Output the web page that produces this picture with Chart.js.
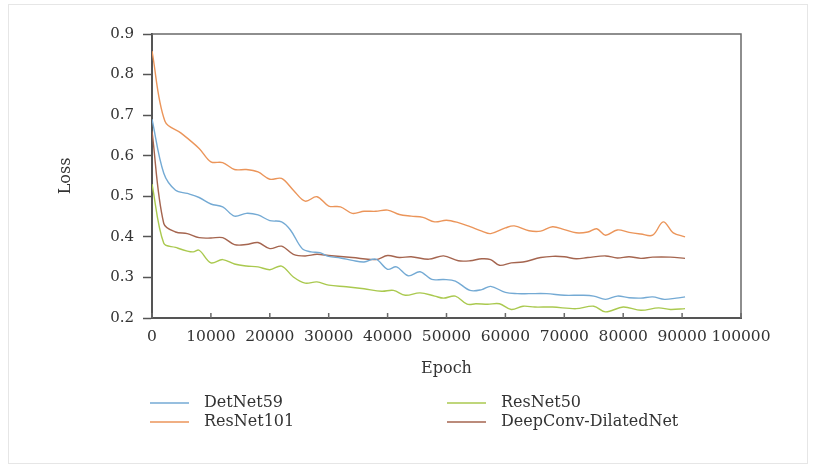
<!DOCTYPE html>
<html>
<head>
<meta charset="utf-8">
<script src="https://cdn.jsdelivr.net/npm/chart.js@4.4.1/dist/chart.umd.min.js"></script>
<style>
  html, body { margin: 0; padding: 0; background: #fff; }
  #wrap { position: relative; width: 813px; height: 468px; }
  #frame { position: absolute; left: 8px; top: 4px; width: 800px; height: 460px; border: 1px solid #e6e6e6; box-sizing: border-box; }
  canvas { position: absolute; left: 0; top: 0; }
</style>
</head>
<body>
<div id="wrap">
  <div id="frame"></div>
  <canvas id="lossChart" width="813" height="468"></canvas>
</div>
<script>
// epochs and loss values
const detNetEpochs = [0, 2000, 4000, 6000, 8000, 10000, 12000, 14000, 16000, 18000, 20000, 22000, 23500, 25500, 27000, 28500, 30000, 32000, 34000, 36000, 38000, 40000, 41500, 43500, 45500, 47500, 49500, 51500, 54000, 56000, 57500, 60000, 62000, 64000, 67000, 70000, 73000, 75000, 77000, 79000, 81000, 83000, 85000, 87000, 89000, 90500];
const detNetLoss = [0.69, 0.557, 0.515, 0.507, 0.497, 0.481, 0.474, 0.451, 0.458, 0.454, 0.44, 0.437, 0.417, 0.371, 0.363, 0.361, 0.352, 0.348, 0.342, 0.338, 0.345, 0.32, 0.326, 0.304, 0.314, 0.295, 0.295, 0.291, 0.268, 0.27, 0.278, 0.263, 0.26, 0.26, 0.26, 0.256, 0.256, 0.254, 0.246, 0.254, 0.25, 0.249, 0.252, 0.246, 0.249, 0.252];

const resNet101Epochs = [0, 2200, 5000, 8000, 10000, 12000, 14000, 16000, 18000, 20000, 22000, 24000, 26000, 28000, 30000, 32000, 34000, 36000, 38000, 40000, 42000, 44000, 46000, 48000, 50000, 52000, 54000, 56000, 57500, 60000, 61500, 64000, 66000, 68000, 70000, 72000, 74000, 75500, 77000, 79000, 81000, 83000, 85000, 86800, 88500, 90500];
const resNet101Loss = [0.858, 0.685, 0.655, 0.618, 0.585, 0.583, 0.566, 0.566, 0.56, 0.542, 0.544, 0.515, 0.488, 0.499, 0.476, 0.474, 0.458, 0.463, 0.463, 0.466, 0.455, 0.451, 0.448, 0.437, 0.441, 0.435, 0.425, 0.414, 0.408, 0.422, 0.427, 0.415, 0.414, 0.425, 0.418, 0.41, 0.412, 0.42, 0.404, 0.417, 0.411, 0.407, 0.404, 0.437, 0.41, 0.4];

const resNet50Epochs = [0, 2000, 4000, 6000, 7000, 8000, 10000, 12000, 14000, 16000, 18000, 20000, 22000, 24000, 26000, 28000, 30000, 33000, 36000, 39000, 41000, 43000, 45500, 48000, 49500, 51500, 53500, 55000, 57000, 59000, 61000, 63000, 65000, 68000, 72000, 75000, 77000, 80000, 83000, 86000, 88000, 90500];
const resNet50Loss = [0.53, 0.384, 0.374, 0.365, 0.363, 0.367, 0.336, 0.344, 0.333, 0.328, 0.326, 0.319, 0.328, 0.301, 0.286, 0.289, 0.281, 0.277, 0.272, 0.266, 0.268, 0.256, 0.262, 0.254, 0.249, 0.254, 0.234, 0.235, 0.234, 0.235, 0.221, 0.229, 0.227, 0.227, 0.223, 0.229, 0.215, 0.227, 0.219, 0.225, 0.221, 0.223];

const dilatedEpochs = [0, 2000, 4000, 6000, 8000, 10000, 12000, 14000, 16000, 18000, 20000, 22000, 24000, 26000, 28000, 30000, 34000, 38000, 40000, 42000, 44000, 47000, 49500, 52000, 54000, 56000, 57500, 59000, 61000, 63000, 66000, 68000, 70000, 72000, 74000, 77000, 79000, 81000, 83000, 85000, 88000, 90500];
const dilatedLoss = [0.66, 0.433, 0.412, 0.408, 0.398, 0.397, 0.398, 0.381, 0.381, 0.386, 0.371, 0.377, 0.357, 0.353, 0.357, 0.354, 0.349, 0.344, 0.354, 0.349, 0.351, 0.345, 0.353, 0.341, 0.341, 0.346, 0.344, 0.33, 0.336, 0.338, 0.349, 0.352, 0.351, 0.346, 0.349, 0.353, 0.348, 0.351, 0.347, 0.35, 0.35, 0.347];

const xTicks = [0, 10000, 20000, 30000, 40000, 50000, 60000, 70000, 80000, 90000, 100000];
const yTicks = [0.2, 0.3, 0.4, 0.5, 0.6, 0.7, 0.8, 0.9];

const seriesNames = ["DetNet59", "ResNet101", "ResNet50", "DeepConv-DilatedNet"];
const seriesColors = ["#74aad4", "#eb955a", "#aac94f", "#a5654f"];

const FONT = "'DejaVu Serif', 'Liberation Serif', serif";
const TEXT = "#333";

function pts(xs, ys) { return xs.map((x, i) => ({ x: x, y: ys[i] })); }

const series = [
  pts(detNetEpochs, detNetLoss),
  pts(resNet101Epochs, resNet101Loss),
  pts(resNet50Epochs, resNet50Loss),
  pts(dilatedEpochs, dilatedLoss)
];

// frame on top/right, inward x ticks, and the 2x2 legend
const framePlugin = {
  id: "framePlugin",
  afterDraw(chart) {
    const ctx = chart.ctx;
    const a = chart.chartArea;
    const xs = chart.scales.x;
    ctx.save();
    ctx.strokeStyle = "#6a6a6a";
    ctx.lineWidth = 1.5;
    ctx.beginPath();
    ctx.moveTo(a.left, a.top);
    ctx.lineTo(a.right, a.top);
    ctx.lineTo(a.right, a.bottom);
    ctx.stroke();
    ctx.beginPath();
    xTicks.forEach(t => {
      const px = xs.getPixelForValue(t);
      ctx.moveTo(px, a.bottom);
      ctx.lineTo(px, a.bottom - 5);
    });
    ctx.stroke();

    const cells = [[150, 403], [150, 422], [447, 403], [447, 422]];
    ctx.font = "16px " + FONT;
    ctx.textBaseline = "middle";
    ctx.fillStyle = TEXT;
    chart.data.datasets.forEach((ds, k) => {
      const [lx, ly] = cells[k];
      ctx.strokeStyle = ds.borderColor;
      ctx.lineWidth = 1.6;
      ctx.beginPath();
      ctx.moveTo(lx, ly);
      ctx.lineTo(lx + 39, ly);
      ctx.stroke();
      ctx.fillText(ds.label, lx + 54, ly);
    });
    ctx.restore();
  }
};

new Chart(document.getElementById("lossChart"), {
  type: "line",
  data: {
    datasets: seriesNames.map((name, i) => ({
      label: name,
      data: series[i],
      borderColor: seriesColors[i],
      backgroundColor: seriesColors[i],
      borderWidth: 1.4,
      pointRadius: 0,
      tension: 0.35,
      fill: false
    }))
  },
  options: {
    responsive: false,
    animation: false,
    layout: { padding: { left: 0, top: 34, right: 72, bottom: 0 } },
    plugins: { legend: { display: false }, tooltip: { enabled: false } },
    scales: {
      x: {
        type: "linear",
        min: 0,
        max: 100000,
        afterBuildTicks: s => { s.ticks = xTicks.map(v => ({ value: v })); },
        afterFit: s => { s.height = 150; },
        ticks: {
          autoSkip: false,
          maxRotation: 0,
          minRotation: 0,
          padding: 10,
          color: TEXT,
          font: { family: FONT, size: 15.5 },
          callback: v => String(v)
        },
        grid: { drawOnChartArea: false, drawTicks: false },
        border: { color: "#555", width: 2 },
        title: {
          display: true,
          text: "Epoch",
          color: TEXT,
          font: { family: FONT, size: 16 },
          padding: { top: 0, bottom: 90 }
        }
      },
      y: {
        min: 0.2,
        max: 0.9,
        afterBuildTicks: s => { s.ticks = yTicks.map(v => ({ value: v })); },
        afterFit: s => { s.width = 152; },
        ticks: {
          padding: 9,
          color: TEXT,
          font: { family: FONT, size: 15 },
          callback: v => v.toFixed(1)
        },
        grid: { drawOnChartArea: false, drawTicks: true, tickLength: 9, color: "#555", tickWidth: 1.5 },
        border: { color: "#555", width: 2 },
        title: {
          display: true,
          text: "Loss",
          color: TEXT,
          font: { family: FONT, size: 16 },
          padding: { top: 56, bottom: 0 }
        }
      }
    }
  },
  plugins: [framePlugin]
});
</script>
</body>
</html>
